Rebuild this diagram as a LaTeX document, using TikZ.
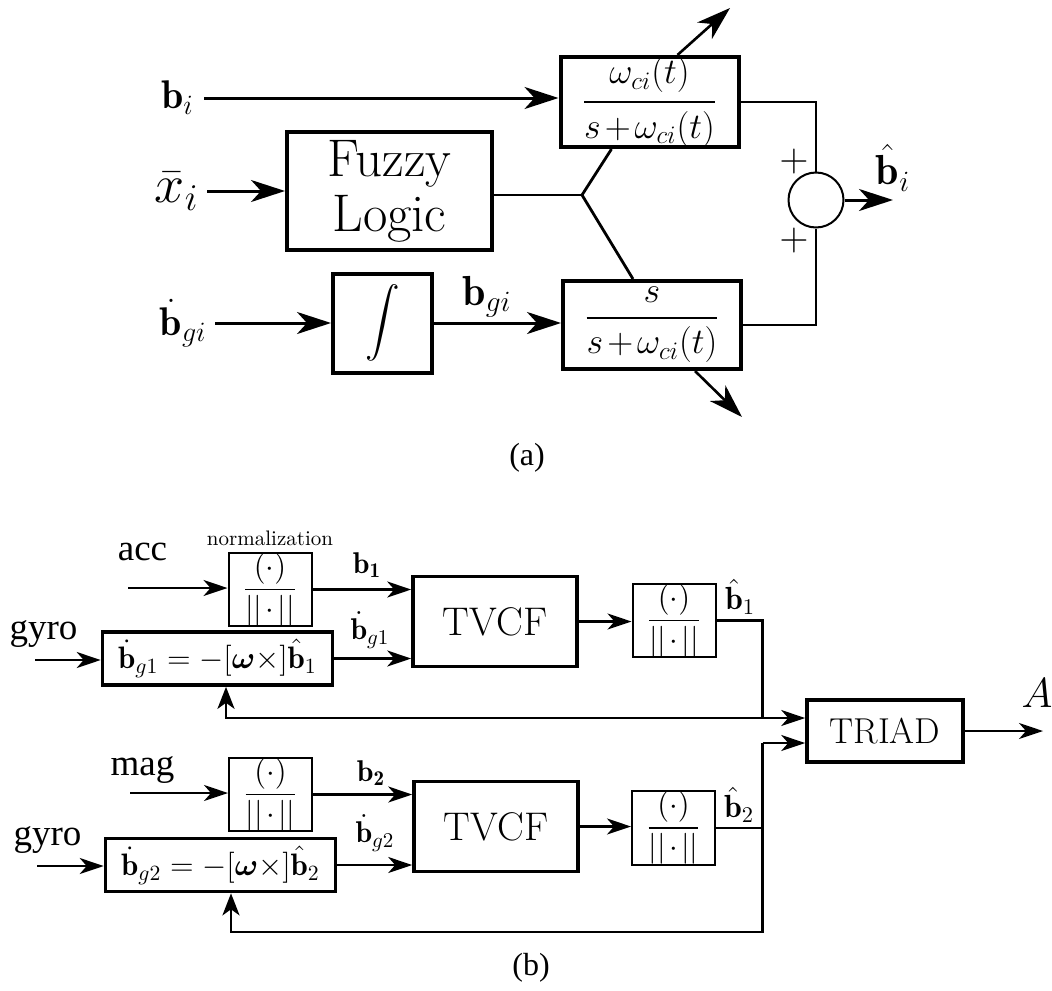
\RequirePackage{fix-cm}
\documentclass[tikz,border=0pt]{standalone}
\usepackage{amsmath}
\usepackage{fontspec}
\newfontfamily\tnr{Liberation Serif}
\usetikzlibrary{arrows.meta,calc}
\newcommand\nrm{$\genfrac{}{}{0.8pt}{0}{(\cdot)}{||\mskip2mu{\cdot}\mskip2mu||}$}
\newcommand\wfrac[2]{\genfrac{}{}{1.3pt}{0}{#1}{#2}}
\newcommand\tplus{\mskip-2mu+\mskip-2mu}
\tikzset{
  boxA/.style={draw, line width=2pt, inner sep=0pt, align=center},
  fracbox/.style={boxA, minimum width=89pt, minimum height=44pt, font=\fontsize{18}{20}\selectfont},
  arrA/.style={line width=1.5pt, -{Stealth[length=17pt,width=11pt,inset=5pt]}},
  arrAthin/.style={line width=1.3pt, -{Stealth[length=17pt,width=11pt,inset=5pt]}},
  lnA/.style={line width=1.4pt},
  boxB/.style={draw, line width=1.8pt, inner sep=0pt},
  tvbox/.style={boxB, minimum width=82pt, minimum height=45pt, font=\fontsize{20}{22}\selectfont},
  gbox/.style={boxB, minimum width=115pt, minimum height=26.5pt, font=\fontsize{15.5}{17}\selectfont},
  nbox/.style={draw, line width=1pt, inner sep=0pt, minimum width=41.5pt, minimum height=36.5pt, font=\fontsize{15.5}{17}\selectfont},
  arrB/.style={line width=1.1pt, -{Stealth[length=12pt,width=8pt,inset=3.5pt]}},
  arrFB/.style={line width=1.4pt, -{Stealth[length=11pt,width=8.5pt,inset=3pt]}},
  lnB/.style={line width=1.1pt},
  labB/.style={font=\fontsize{15}{17}\selectfont, inner sep=0pt},
  txtB/.style={font=\tnr\fontsize{18.5}{20}\selectfont, inner sep=0pt},
}
\begin{document}
\begin{tikzpicture}[x=0.5pt, y=-0.5pt]
\useasboundingbox (0,0) rectangle (1052,990);
% ---------------- (a) ----------------
\node[fracbox] (wbox) at (649.5,102) {$\wfrac{\omega_{ci}(t)}{s\tplus\omega_{ci}(t)}$};
\node[fracbox] (sbox) at (652,325) {$\wfrac{s}{s\tplus\omega_{ci}(t)}$};
\node[boxA, minimum width=102.5pt, minimum height=59pt, font=\fontsize{26.5}{27.5}\selectfont] (fuzzy) at (389.5,191) {Fuzzy\\Logic};
\node[boxA, minimum width=49.5pt, minimum height=49.5pt, font=\fontsize{16}{18}\selectfont] (int) at (382.5,323) {$\displaystyle\int$};
\node[circle, draw, line width=1pt, minimum size=27.5pt, inner sep=0pt] (sum) at (816,200) {};

\node[anchor=east, inner xsep=5pt, inner ysep=0pt, font=\fontsize{20}{22}\selectfont] (bi) at (204,98) {$\mathbf{b}_i$};
\node[anchor=east, inner xsep=4pt, inner ysep=0pt, font=\fontsize{27}{30}\selectfont] (xi) at (207,191) {$\bar{x}_i$};
\node[anchor=east, inner xsep=4pt, inner ysep=0pt, font=\fontsize{20}{22}\selectfont] (bgdot) at (215,323) {$\dot{\mathbf{b}}_{gi}$};
\node[font=\fontsize{21}{23}\selectfont, inner sep=0pt] (bgi) at (487,297) {$\mathbf{b}_{gi}$};
\node[font=\fontsize{21}{23}\selectfont, inner sep=0pt] (bhat) at (893,168) {$\hat{\mathbf{b}}_i$};
\node[font=\fontsize{20}{22}\selectfont, inner sep=0pt] (p1) at (794,161) {$+$};
\node[font=\fontsize{20}{22}\selectfont, inner sep=0pt] (p2) at (794,240) {$+$};
\node[font=\tnr\fontsize{16}{18}\selectfont, inner sep=0pt] (capa) at (527,458) {(a)};

\draw[arrA] (bi) -- (bi -| wbox.west);
\draw[arrA] (xi) -- (xi -| fuzzy.west);
\draw[arrA] (bgdot) -- (bgdot -| int.west);
\draw[arrA] (int) -- (int -| sbox.west);
\coordinate (br) at (582,195);
\draw[lnA] (br -| fuzzy.east) -- (br);
\draw[lnA] ($(wbox.south west)+(53,0)$) -- (br) -- ($(sbox.north west)+(72,0)$);
\draw[lnA] (wbox.east) -| (sum.north);
\draw[lnA] (sbox.east) -| (sum.south);
\coordinate (bout) at (893,200);
\draw[arrA] (sum.east) -- (bout);
\coordinate (upend) at (730,8);
\draw[arrAthin] ($(wbox.north west)+(119,0)$) -- (upend);
\coordinate (dnend) at (742,417);
\draw[arrAthin] ($(sbox.south west)+(134,0)$) -- (dnend);

% ---------------- (b) ----------------
\node[nbox] (n1) at (270,589.5) {\nrm};
\node[font=\fontsize{10.5}{12}\selectfont, anchor=base, inner sep=0pt] (nlab) at ($(n1.north)+(0,-6)$) {normalization};
\node[tvbox] (tv1) at (495,621.5) {TVCF};
\node[gbox] (g1) at (217.5,658.5) {$\dot{\mathbf{b}}_{g1} = -[\boldsymbol{\omega}\times]\hat{\mathbf{b}}_1$};
\node[nbox] (m1) at (674,620.5) {\nrm};
\node[boxB, minimum width=78pt, minimum height=31pt, font=\fontsize{18}{20}\selectfont] (triad) at (885,731) {TRIAD};

\node[txtB] (acc) at (142.5,552) {acc};
\node[txtB] (gyro1) at (43.5,634) {gyro};
\node[labB] (b1lab) at (367,565) {$\mathbf{b}_{\mathbf{1}}$};
\node[labB] (bg1lab) at (370,630) {$\dot{\mathbf{b}}_{g1}$};
\node[labB, font=\fontsize{16}{18}\selectfont] (bh1) at (740,597) {$\hat{\mathbf{b}}_1$};
\node[font=\fontsize{21}{23}\selectfont, inner sep=0pt] (Alab) at (1037,693) {$A$};

\coordinate (accin) at (128,588);
\coordinate (gyin1) at (35,660);
\draw[arrB] (accin) -- (accin -| n1.west);
\draw[arrB] (n1) -- (n1 -| tv1.west);
\draw[arrB] (gyin1) -- (gyin1 -| g1.west);
\draw[arrB] (g1) -- (g1 -| tv1.west);
\draw[arrB] (tv1) -- (tv1 -| m1.west);
\coordinate (j1) at (762.5,718);
\draw[lnB] (m1.east) -| (j1);
\draw[arrB] (j1) -- (j1 -| triad.west);
\draw[arrFB] (j1) -| ($(g1.south)+(8.5,0)$);
\coordinate (aout) at (1043,731);
\draw[arrB] (triad.east) -- (aout);

\node[nbox] (n2) at (270.5,794.5) {\nrm};
\node[tvbox] (tv2) at (496,826.5) {TVCF};
\node[gbox] (g2) at (220.5,865) {$\dot{\mathbf{b}}_{g2} = -[\boldsymbol{\omega}\times]\hat{\mathbf{b}}_2$};
\node[nbox] (m2) at (673.5,828) {\nrm};

\node[txtB] (mag) at (142.5,770) {mag};
\node[txtB] (gyro2) at (47.5,840) {gyro};
\node[labB] (b2lab) at (371,773) {$\mathbf{b}_{\mathbf{2}}$};
\node[labB] (bg2lab) at (375,833) {$\dot{\mathbf{b}}_{g2}$};
\node[labB, font=\fontsize{16}{18}\selectfont] (bh2) at (739,805) {$\hat{\mathbf{b}}_2$};
\node[font=\tnr\fontsize{16}{18}\selectfont, inner sep=0pt] (capb) at (531,968) {(b)};

\coordinate (magin) at (130,793);
\coordinate (gyin2) at (37,866);
\draw[arrB] (magin) -- (magin -| n2.west);
\draw[arrB] (n2) -- (n2 -| tv2.west);
\draw[arrB] (gyin2) -- (gyin2 -| g2.west);
\draw[arrB] (g2) -- (g2 -| tv2.west);
\draw[arrB] (tv2) -- (tv2 -| m2.west);
\coordinate (j2) at (762.5,828);
\coordinate (t2) at (762.5,743);
\coordinate (fb2) at (762.5,932);
\draw[lnB] (m2.east) -- (j2) -- (t2);
\draw[arrB] (t2) -- (t2 -| triad.west);
\draw[arrFB] (j2) -- (fb2) -| ($(g2.south)+(10.5,0)$);
\end{tikzpicture}
\end{document}
